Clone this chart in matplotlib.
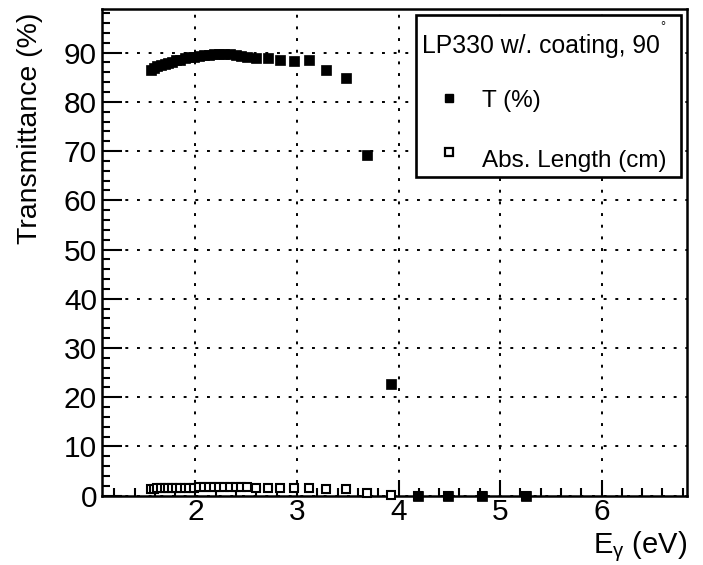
import matplotlib
matplotlib.use("Agg")
import matplotlib.pyplot as plt
from matplotlib.ticker import MultipleLocator, FixedLocator
from matplotlib.patches import Rectangle
from matplotlib.lines import Line2D

plt.rcParams['font.family'] = ['Liberation Sans', 'DejaVu Sans']
plt.rcParams['mathtext.fontset'] = 'custom'
plt.rcParams['mathtext.rm'] = 'Liberation Sans'
plt.rcParams['mathtext.it'] = 'Liberation Sans:italic'

# ---- data ----
energy_eV = [1.557, 1.59, 1.625, 1.66, 1.695, 1.73, 1.77, 1.81, 1.85, 1.895,
             1.94, 1.985, 2.03, 2.08, 2.13, 2.18, 2.23, 2.285, 2.34, 2.395,
             2.45, 2.51, 2.60, 2.71, 2.83, 2.975, 3.12, 3.29, 3.48, 3.69,
             3.93, 4.19, 4.49, 4.82, 5.26]
transmittance = [86.4, 86.9, 87.2, 87.5, 87.7, 87.9, 88.1, 88.4, 88.6, 88.9,
                 89.1, 89.2, 89.3, 89.5, 89.6, 89.7, 89.7, 89.7, 89.7, 89.6,
                 89.4, 89.2, 89.0, 89.0, 88.6, 88.3, 88.4, 86.4, 84.9, 69.3,
                 22.6, 0.0, 0.0, 0.0, 0.0]
abs_length_cm = [1.4, 1.45, 1.5, 1.5, 1.5, 1.55, 1.55, 1.6, 1.6, 1.6,
                 1.65, 1.65, 1.7, 1.7, 1.7, 1.75, 1.75, 1.75, 1.75, 1.7,
                 1.7, 1.7, 1.65, 1.65, 1.6, 1.6, 1.55, 1.45, 1.35, 0.6,
                 0.2, 0.0, 0.0, 0.0, 0.0]
x_ticks = [2, 3, 4, 5, 6]
y_ticks = [0, 10, 20, 30, 40, 50, 60, 70, 80, 90]
legend_title = "LP330 w/. coating, 90"
series_labels = ["T (%)", "Abs. Length (cm)"]

W, H = 703, 565
def fx(x):
    return x / W
def fy(y):
    return 1 - y / H

fig = plt.figure(figsize=(W / 100, H / 100), dpi=100)
ax = fig.add_axes([fx(101.7), fy(495.7), (687.3 - 101.7) / W, (495.7 - 9.3) / H])

ax.plot(energy_eV, abs_length_cm, ls='none', marker='s', ms=6.3,
        mfc='white', mec='black', mew=1.5, zorder=3, clip_on=False)
ax.plot(energy_eV, transmittance, ls='none', marker='s', ms=7.0,
        mfc='black', mec='black', mew=0.5, zorder=4, clip_on=False)

ax.set_xlim(1.076, 6.845)
ax.set_ylim(0, 98.8)
ax.xaxis.set_major_locator(FixedLocator(x_ticks))
ax.yaxis.set_major_locator(FixedLocator(y_ticks))
ax.xaxis.set_minor_locator(MultipleLocator(0.2))
ax.yaxis.set_minor_locator(MultipleLocator(2))
ax.set_xticklabels([str(t) for t in x_ticks])
ax.set_yticklabels([str(t) for t in y_ticks])

ax.grid(which='major', color='black', lw=1.4, ls=(0, (1.5, 4.5)), zorder=1)
ax.set_axisbelow(True)

for s in ax.spines.values():
    s.set_linewidth(1.8)
ax.tick_params(which='both', direction='in', top=False, right=False,
               width=1.5, labelsize=21.5)
ax.tick_params(axis='y', which='major', length=14.4, pad=3.4)
ax.tick_params(axis='x', which='major', length=11.5, pad=1.5)
ax.tick_params(which='minor', length=6)

fig.text(fx(30), fy(13), "Transmittance (%)", rotation=90, ha='center',
         va='top', fontsize=20.5)
fig.text(fx(687.3), fy(553), r"E$_{\mathregular{γ}}$ (eV)", ha='right',
         va='baseline', fontsize=21)

# legend box
fig.add_artist(Rectangle((fx(416), fy(177)), (681 - 416) / W, (177 - 15) / H,
                         transform=fig.transFigure, facecolor='white',
                         edgecolor='black', lw=1.9, zorder=10))
fig.text(fx(421.7), fy(53.3), legend_title, ha='left', va='baseline',
         fontsize=17.8, zorder=11)
fig.text(fx(663), fy(27), "°", ha='center', va='center', fontsize=9, zorder=11)
fig.add_artist(Line2D([fx(449)], [fy(98)], transform=fig.transFigure,
                      ls='none', marker='s', ms=6.3, mfc='black', mec='black',
                      zorder=11))
fig.add_artist(Line2D([fx(449)], [fy(152)], transform=fig.transFigure,
                      ls='none', marker='s', ms=6.0, mfc='white', mec='black',
                      mew=1.6, zorder=11))
fig.text(fx(481.7), fy(107.5), series_labels[0], ha='left', va='baseline',
         fontsize=17.5, zorder=11)
fig.text(fx(481.7), fy(166.7), series_labels[1], ha='left', va='baseline',
         fontsize=17.5, zorder=11)

fig.savefig("out.png", dpi=100)
